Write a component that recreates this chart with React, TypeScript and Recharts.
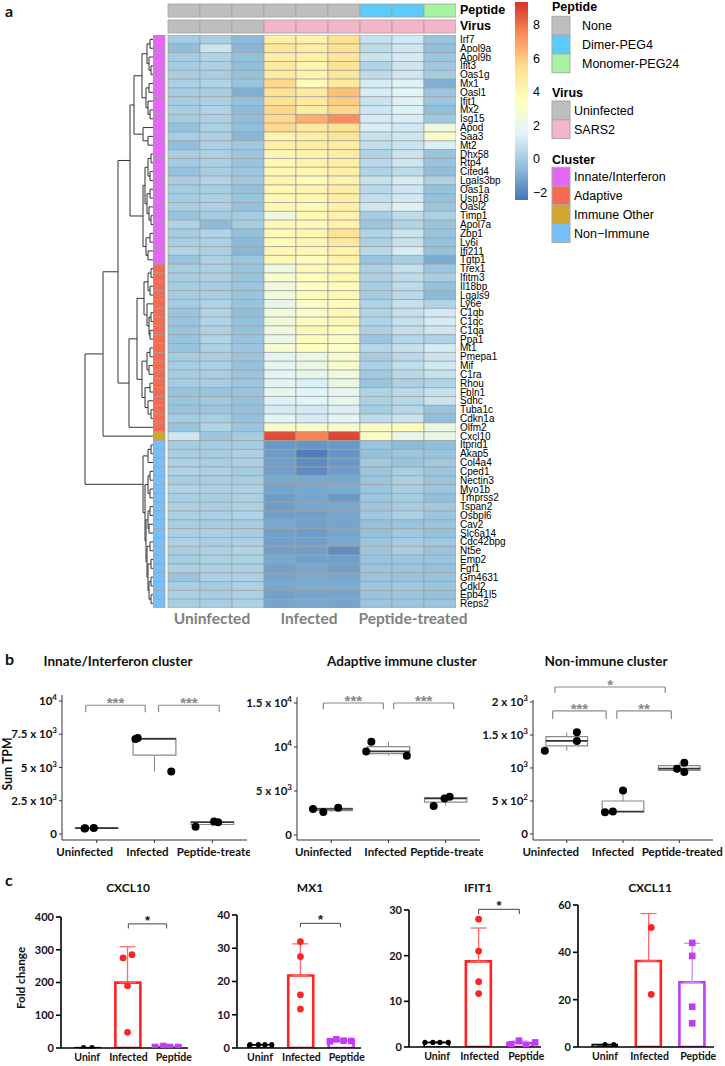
import React from 'react';
import {
  BarChart, Bar, Cell, XAxis, YAxis, ScatterChart, Scatter, ComposedChart,
  ReferenceLine, ReferenceArea, ReferenceDot, ErrorBar,
} from 'recharts';

// ---------------- panel a : heatmap ----------------
const genes = [
  'Irf7', 'Apol9a', 'Apol9b', 'Ifit3', 'Oas1g', 'Mx1', 'Oasl1', 'Ifit1', 'Mx2', 'Isg15', 'Apod', 'Saa3', 'Mt2',
  'Dhx58', 'Rtp4', 'Cited4', 'Lgals3bp', 'Oas1a', 'Usp18', 'Oasl2', 'Timp1', 'Apol7a', 'Zbp1', 'Ly6i', 'Ifi211', 'Tgtp1',
  'Trex1', 'Ifitm3', 'Il18bp', 'Lgals9', 'Ly6e', 'C1qb', 'C1qc', 'C1qa', 'Ppa1', 'Mt1', 'Pmepa1', 'Mif', 'C1ra', 'Rhou',
  'Fbln1', 'Sdhc', 'Tuba1c', 'Cdkn1a', 'Olfm2', 'Cxcl10',
  'Itprid1', 'Akap5', 'Col4a4', 'Cped1', 'Nectin3', 'Myo1b', 'Tmprss2', 'Tspan2', 'Osbpl6', 'Cav2', 'Slc6a14',
  'Cdc42bpg', 'Nt5e', 'Emp2', 'Fgf1', 'Gm4631', 'Cdkl2', 'Epb41l5', 'Reps2',
];
const clusterNames = ['Innate/Interferon', 'Adaptive', 'Immune Other', 'Non\u2212Immune'];
const clusterSizes = [26, 19, 1, 19];
const peptideLevels = ['None', 'Dimer-PEG4', 'Monomer-PEG24'];
const virusLevels = ['Uninfected', 'SARS2'];
const samplePeptide = ['None', 'None', 'None', 'None', 'None', 'None', 'Dimer-PEG4', 'Dimer-PEG4', 'Monomer-PEG24'];
const sampleVirus = ['Uninfected', 'Uninfected', 'Uninfected', 'SARS2', 'SARS2', 'SARS2', 'SARS2', 'SARS2', 'SARS2'];
const sampleGroups = ['Uninfected', 'Infected', 'Peptide-treated'];

// one row per gene, one value per sample (3 uninfected, 3 infected, 3 peptide)
const zScores = [
  [0.0, 0.1, -0.6, 4.5, 4.3, 5.3, 0.8, 1.1, -0.3],
  [-0.5, 0.9, -0.7, 5.0, 4.6, 5.3, 0.6, 1.0, -0.5],
  [0.0, 0.3, -0.4, 4.6, 4.4, 5.0, 0.9, 1.2, -0.2],
  [0.0, 0.2, -0.5, 4.8, 4.2, 5.2, 0.3, 1.0, -0.1],
  [0.1, 0.1, -0.4, 4.7, 4.3, 5.0, 0.6, 1.0, 0.0],
  [0.2, 0.3, -0.3, 5.6, 3.6, 4.8, 1.2, 1.4, -0.9],
  [0.0, 0.1, -0.9, 5.2, 4.8, 6.2, 1.2, 1.6, -0.2],
  [0.0, 0.2, -0.4, 5.2, 4.8, 5.9, 0.9, 1.4, -0.2],
  [0.1, 0.3, -0.6, 5.6, 4.6, 5.6, 1.0, 1.4, -0.5],
  [0.0, 0.2, -0.5, 5.6, 6.6, 7.4, 1.2, 1.3, -0.1],
  [-0.4, 0.2, -0.5, 5.6, 4.8, 5.3, 1.3, 1.1, 2.4],
  [0.1, 0.2, -0.7, 4.2, 4.6, 5.1, 0.8, 1.0, 3.2],
  [-0.5, 0.2, -0.1, 4.4, 4.6, 4.6, 0.7, 0.9, 1.3],
  [0.1, 0.2, -0.2, 3.9, 4.3, 4.6, 0.3, 0.9, -0.3],
  [0.0, 0.2, -0.3, 3.9, 4.3, 4.5, 0.5, 1.0, -0.3],
  [-0.4, 0.1, -0.2, 4.0, 4.0, 4.5, 0.3, 0.6, -0.5],
  [0.1, 0.3, -0.1, 4.1, 3.6, 4.3, 0.8, 1.2, 0.2],
  [0.0, 0.1, -0.4, 4.0, 4.2, 4.6, 0.5, 1.0, -0.4],
  [0.0, 0.2, -0.3, 3.9, 4.0, 4.5, 0.7, 1.1, -0.4],
  [0.1, 0.2, -0.4, 4.0, 3.8, 4.4, 1.0, 1.4, -0.2],
  [-0.3, 0.0, 0.0, 2.4, 3.9, 4.2, 0.0, 0.6, 0.2],
  [0.3, -0.6, 0.0, 3.9, 3.8, 4.3, -0.2, 0.3, -0.3],
  [0.0, 0.3, -0.4, 3.8, 4.0, 5.2, 0.3, 0.9, -0.3],
  [0.1, 0.2, -0.6, 3.7, 3.9, 4.8, 0.2, 0.8, -0.4],
  [0.3, 0.2, -0.7, 4.0, 3.9, 4.3, 0.5, 1.2, -0.4],
  [-0.3, 0.2, -0.2, 3.9, 3.6, 4.3, -0.3, 0.1, -1.0],
  [0.1, 0.2, -0.3, 2.3, 3.8, 3.9, 0.2, 0.8, -0.2],
  [0.0, 0.2, -0.3, 3.0, 3.5, 4.0, 0.2, 0.6, 0.1],
  [0.0, 0.1, -0.2, 2.4, 3.4, 3.6, 0.1, 0.6, -0.4],
  [0.0, 0.1, -0.3, 2.6, 3.6, 3.9, 0.0, 0.5, -0.6],
  [0.0, 0.3, -0.3, 2.0, 3.2, 3.6, 0.3, 0.8, 0.3],
  [-0.3, 0.3, -0.5, 2.6, 3.2, 3.8, 0.3, 0.8, 1.1],
  [-0.3, 0.3, -0.4, 2.5, 3.3, 3.8, 0.3, 0.8, 1.2],
  [-0.3, 0.2, -0.4, 2.5, 3.8, 3.6, 0.2, 0.7, 1.0],
  [-0.3, 0.3, -0.3, 2.1, 3.5, 3.2, -0.2, 0.4, 0.3],
  [-0.3, 0.2, -0.2, 2.9, 3.5, 3.3, 0.4, 0.8, 1.2],
  [0.0, 0.1, -0.3, 1.7, 2.2, 2.9, 0.0, 0.5, 0.9],
  [0.0, 0.2, -0.4, 1.8, 2.1, 3.0, 0.2, 0.7, 1.1],
  [0.0, 0.1, -0.3, 1.6, 2.0, 2.5, -0.1, 0.5, 0.8],
  [0.0, 0.1, -0.2, 1.7, 1.3, 2.2, -0.3, 0.2, 0.3],
  [-0.3, -0.3, -0.3, 1.9, 1.5, 1.8, 0.3, 0.5, 0.8],
  [-0.3, -0.1, -0.4, 1.4, 1.6, 1.9, 0.2, 0.4, 0.9],
  [-0.3, -0.2, -0.4, 1.2, 1.1, 1.3, 0.0, 0.4, -0.3],
  [0.0, 0.1, -0.4, 1.7, 1.2, 1.6, 0.6, 0.9, -0.5],
  [-0.3, 0.3, -0.2, 3.0, 3.0, 2.9, 3.2, 3.4, 2.3],
  [1.0, -0.2, 0.0, 8.8, 7.6, 8.9, 3.2, 2.0, 2.2],
  [0.0, 0.0, 0.0, -1.5, -1.6, -1.5, -0.3, -0.6, -0.5],
  [0.1, 0.0, 0.2, -1.4, -2.2, -1.6, -0.4, -0.2, -0.3],
  [0.2, 0.1, 0.2, -1.3, -1.8, -1.5, -0.1, -0.3, -0.1],
  [0.3, 0.2, 0.0, -1.3, -1.8, -1.4, -0.2, 0.1, -0.2],
  [0.1, 0.1, 0.1, -1.1, -1.1, -1.1, -0.3, 0.2, -0.3],
  [0.3, 0.2, 0.2, -1.2, -1.1, -1.0, -0.3, 0.1, -0.2],
  [0.1, 0.1, 0.2, -1.4, -1.2, -1.5, -0.2, 0.0, -0.5],
  [0.2, 0.1, 0.2, -1.4, -1.2, -1.1, -0.2, 0.0, -0.1],
  [0.2, 0.2, 0.3, -1.3, -1.3, -1.2, -0.1, 0.2, -0.2],
  [0.1, 0.0, 0.0, -1.1, -1.3, -1.2, -0.4, -0.3, -0.3],
  [0.2, 0.2, 0.1, -1.3, -1.4, -1.2, -0.4, -0.1, -0.4],
  [0.2, 0.1, 0.2, -1.3, -1.3, -1.1, -0.2, 0.0, -0.1],
  [0.1, 0.2, 0.3, -1.3, -1.3, -1.8, -0.2, 0.1, -0.3],
  [0.0, 0.2, 0.2, -1.1, -1.3, -1.3, -0.3, -0.2, -0.3],
  [0.2, 0.2, 0.2, -1.3, -1.1, -1.3, -0.3, -0.3, -0.4],
  [-0.3, 0.2, 0.2, -1.2, -1.0, -1.1, -0.3, -0.3, -0.3],
  [0.1, 0.0, 0.2, -1.1, -1.0, -1.0, -0.2, -0.1, -0.3],
  [0.2, 0.1, 0.2, -1.3, -1.2, -1.2, -0.3, -0.2, -0.4],
  [0.1, 0.1, 0.2, -1.2, -1.1, -1.2, -0.2, -0.2, -0.2],
];

const keyRange = [-2.45, 9.35];
const keyTicks = [8, 6, 4, 2, 0, -2];

// row dendrogram: [merge height, left, right], leaves are row indices
const dendrogram = [68,
  [50,
    [35,
      [23,
        [19,
          [11, [6, [3, 0, 1], [4, 2, [2, 3, 4]]], [7, [4, 5, 6], [5, 7, [3, 8, 9]]]],
          [10, 10, [5, 11, 12]]],
        [10,
          [8, [5, [2, 13, 14], [3, 15, 16]], [6, [3, 17, 18], [4, 19, [2, 20, 21]]]],
          [7, [3, 22, 23], [5, 24, 25]]]],
      [24,
        [16,
          [9, [5, [2, 26, 27], [3, 28, 29]], [6, 30, [4, [2, 31, 32], [3, 33, 34]]]],
          [11, [6, [3, 35, 36], [4, 37, 38]], [8, [3, 39, 40], [5, 41, [2, 42, 43]]]]],
        44]],
    45],
  [10,
    [5, [2, 46, 47], 48],
    [8,
      [5, [3, 49, 50], [3, 51, 52]],
      [7,
        [5, [3, 53, 54], [4, 55, 56]],
        [6, [3, 57, 58], [5, [2, 59, 60], [4, [2, 61, 62], [2, 63, 64]]]]]]]];

// ---------------- panel b : cluster sums ----------------
const innateTicks = [0, 2500, 5000, 7500, 10000];
const innateTickText = ['0', '2.5 x 10^3', '5 x 10^3', '7.5 x 10^3', '10^4'];
const innateTPM = [[420, 440, 450], [7150, 7220, 4700], [550, 950, 880]];
const innateJitter = [[0.79, 0.8, 0.95], [1.67, 1.71, 2.29], [2.71, 3.03, 3.1]];
const innateSig = [
  { x1: 0.81, x2: 1.84, y: 9680, end: 9160, label: '***' },
  { x1: 2.07, x2: 3.12, y: 9680, end: 9160, label: '***' },
];

const adaptiveTicks = [0, 5000, 10000, 15000];
const adaptiveTickText = ['0', '5 x 10^3', '10^4', '1.5 x 10^4'];
const adaptiveTPM = [[2950, 2600, 3100], [10600, 9500, 9000], [3300, 4150, 4350]];
const adaptiveJitter = [[0.68, 0.86, 1.12], [1.7, 1.61, 2.32], [2.79, 2.98, 3.07]];
const adaptiveSig = [
  { x1: 0.86, x2: 1.91, y: 15000, end: 14300, label: '***' },
  { x1: 2.09, x2: 3.14, y: 15000, end: 14300, label: '***' },
];

const nonImmuneTicks = [0, 500, 1000, 1500, 2000];
const nonImmuneTickText = ['0', '5 x 10^2', '10^3', '1.5 x 10^3', '2 x 10^3'];
const nonImmuneTPM = [[1260, 1410, 1540], [330, 340, 660], [990, 1080, 940]];
const nonImmuneJitter = [[0.61, 1.18, 1.18], [1.68, 1.82, 2.0], [2.96, 3.09, 3.09]];
const nonImmuneSig = [
  { x1: 0.79, x2: 2.75, y: 2227, end: 2136, label: '*' },
  { x1: 0.75, x2: 1.7, y: 1864, end: 1742, label: '***' },
  { x1: 1.89, x2: 2.86, y: 1864, end: 1742, label: '**' },
];

// ---------------- panel c : qPCR fold change ----------------
const foldGroups = ['Uninf', 'Infected', 'Peptide'];
const cxcl10Fold = [[1, 1], [275, 285, 190, 48], [3, 6, 3, 3]];
const cxcl10Jitter = [[0.91, 1.12], [1.89, 2.11, 2.0, 2.0], [2.68, 2.89, 3.05, 3.26]];
const mx1Fold = [[1, 1, 1, 1], [32, 27.5, 16, 11.7], [2.0, 2.6, 2.2, 2.1]];
const mx1Jitter = [[0.75, 0.96, 1.12, 1.29], [2, 2, 2, 2], [2.73, 2.89, 3.07, 3.26]];
const ifit1Fold = [[1, 1, 1, 1], [28, 21, 14.3, 11.7], [0.6, 1.4, 0.4, 1.0]];
const ifit1Jitter = [[0.71, 0.9, 1.07, 1.27], [2, 2, 2, 2], [2.78, 2.97, 3.14, 3.36]];
const cxcl11Fold = [[1, 1], [50.5, 22.2], [44, 38.5, 17, 10]];
const cxcl11Jitter = [[1.0, 1.2], [2.06, 2.06], [3, 3, 3, 3]];

// ---------------- styling ----------------
const ARIAL = '"Liberation Sans", Arial, sans-serif';
const CAL = 'Lato, "Liberation Sans", sans-serif';
const heatPalette = ['#4575B4', '#91BFDB', '#E0F3F8', '#FFFFBF', '#FEE090', '#FC8D59', '#D73027'];
const peptideFill: any = { None: '#BEBEBE', 'Dimer-PEG4': '#5CCBF9', 'Monomer-PEG24': '#A6F3A0' };
const virusFill: any = { Uninfected: '#BEBEBE', SARS2: '#F3B5C7' };
const clusterFill = ['#E466F5', '#F36B51', '#D2A62E', '#77BFFA'];
const GRID = '#A2A2A2';

const HM = { left: 153, top: 35, height: 573, cell: 32, cl: 12, gap: 3, labelW: 75 };
const clU = HM.cl / HM.cell;
const gapU = HM.gap / HM.cell;
const totalU = clU + gapU + 9;
const plotW = HM.cl + HM.gap + 9 * HM.cell;

function hexRgb(h: string) {
  return [1, 3, 5].map((i) => parseInt(h.slice(i, i + 2), 16));
}
function heatColor(v: number) {
  const [lo, hi] = keyRange;
  const n = heatPalette.length - 1;
  const t = Math.min(1, Math.max(0, (v - lo) / (hi - lo))) * n;
  const i = Math.min(n - 1, Math.floor(t));
  const f = t - i;
  const a = hexRgb(heatPalette[i]);
  const b = hexRgb(heatPalette[i + 1]);
  const c = a.map((x, k) => Math.round(x + (b[k] - x) * f));
  return `rgb(${c[0]},${c[1]},${c[2]})`;
}

const geneCluster = clusterSizes.flatMap((n, k) => Array(n).fill(k));
const sampleIdx = [0, 1, 2, 3, 4, 5, 6, 7, 8];

function Heatmap() {
  const rows = genes.map((g) => {
    const r: any = { gene: g, cl: clU, gap: gapU };
    sampleIdx.forEach((j) => (r['s' + j] = 1));
    return r;
  });
  return (
    <BarChart layout="vertical" width={plotW + HM.labelW} height={HM.height} data={rows}
      margin={{ top: 0, right: 0, bottom: 0, left: 0 }} barCategoryGap={0}>
      <XAxis type="number" hide domain={[0, totalU]} allowDataOverflow />
      <YAxis type="category" dataKey="gene" orientation="right" width={HM.labelW} axisLine={false}
        tickLine={false} tickSize={0} tickMargin={4} interval={0}
        tick={{ fontSize: 10, fill: '#000', fontFamily: ARIAL }} />
      <Bar dataKey="cl" stackId="h" stroke={GRID} strokeWidth={0.8} isAnimationActive={false}>
        {rows.map((_, i) => <Cell key={i} fill={clusterFill[geneCluster[i]]} />)}
      </Bar>
      <Bar dataKey="gap" stackId="h" fill="none" stroke="none" isAnimationActive={false} />
      {sampleIdx.map((j) => (
        <Bar key={j} dataKey={'s' + j} stackId="h" stroke={GRID} strokeWidth={0.8} isAnimationActive={false}>
          {zScores.map((r, i) => <Cell key={i} fill={heatColor(r[j])} />)}
        </Bar>
      ))}
    </BarChart>
  );
}

function Annotation() {
  const rows = [
    { name: 'Peptide', sp: clU + gapU, fills: samplePeptide.map((p) => peptideFill[p]) },
    { name: 'Virus', sp: clU + gapU, fills: sampleVirus.map((v) => virusFill[v]) },
  ].map((r: any) => {
    sampleIdx.forEach((j) => (r['s' + j] = 1));
    return r;
  });
  return (
    <BarChart layout="vertical" width={plotW + HM.labelW} height={32} data={rows}
      margin={{ top: 0, right: 0, bottom: 0, left: 0 }} barSize={13}>
      <XAxis type="number" hide domain={[0, totalU]} allowDataOverflow />
      <YAxis type="category" dataKey="name" orientation="right" width={HM.labelW} axisLine={false}
        tickLine={false} tickSize={0} tickMargin={4} interval={0}
        tick={{ fontSize: 12.5, fill: '#000', fontFamily: ARIAL, fontWeight: 700 }} />
      <Bar dataKey="sp" stackId="a" fill="none" stroke="none" isAnimationActive={false} />
      {sampleIdx.map((j) => (
        <Bar key={j} dataKey={'s' + j} stackId="a" stroke={GRID} strokeWidth={0.8} isAnimationActive={false}>
          {rows.map((r, i) => <Cell key={i} fill={r.fills[j]} />)}
        </Bar>
      ))}
    </BarChart>
  );
}

function treeSegments(node: any, segs: any[]): { h: number; y: number } {
  if (typeof node === 'number') return { h: 0, y: node + 0.5 };
  const [h, a, b] = node;
  const A = treeSegments(a, segs);
  const B = treeSegments(b, segs);
  segs.push([{ x: A.h, y: A.y }, { x: h, y: A.y }, { x: h, y: B.y }, { x: B.h, y: B.y }]);
  return { h, y: (A.y + B.y) / 2 };
}

function Dendrogram() {
  const segs: any[] = [];
  treeSegments(dendrogram, segs);
  return (
    <ScatterChart width={69} height={HM.height} margin={{ top: 0, right: 0, bottom: 0, left: 0 }}>
      <XAxis type="number" dataKey="x" domain={[0, 69]} reversed hide allowDataOverflow />
      <YAxis type="number" dataKey="y" domain={[0, genes.length]} reversed hide allowDataOverflow />
      {segs.map((pts, i) => (
        <Scatter key={i} data={pts} fill="#333" line={{ stroke: '#333', strokeWidth: 1 }} lineType="joint"
          shape={() => <g />} isAnimationActive={false} />
      ))}
    </ScatterChart>
  );
}

function HeatLegend() {
  const [lo, hi] = keyRange;
  const kTop = 2;
  const kH = 198;
  const groups = [
    { title: 'Peptide', titleY: 11, top: 16.3, labelX: 102, items: peptideLevels, fills: peptideLevels.map((p) => peptideFill[p]) },
    { title: 'Virus', titleY: 97, top: 101, labelX: 94, items: virusLevels, fills: virusLevels.map((v) => virusFill[v]) },
    { title: 'Cluster', titleY: 163.5, top: 167.3, labelX: 94, items: clusterNames, fills: clusterFill },
  ];
  return (
    <svg width={245} height={250} style={{ position: 'absolute', left: 480, top: 0 }}>
      <defs>
        <linearGradient id="heatkey" x1="0" y1="1" x2="0" y2="0">
          {heatPalette.map((c, i) => <stop key={i} offset={i / (heatPalette.length - 1)} stopColor={c} />)}
        </linearGradient>
      </defs>
      <rect x={35} y={kTop} width={13} height={kH} fill="url(#heatkey)" />
      {keyTicks.map((v) => (
        <text key={v} x={53} y={kTop + kH - ((v - lo) / (hi - lo)) * kH} dy={4.5} fontSize={12.5} fontFamily={ARIAL}>
          {v < 0 ? '\u2212' + -v : v}
        </text>
      ))}
      {groups.map((g) => (
        <g key={g.title}>
          <text x={72} y={g.titleY} fontSize={12.5} fontWeight={700} fontFamily={ARIAL}>{g.title}</text>
          {g.items.map((it, i) => (
            <g key={it}>
              <rect x={72} y={g.top + i * 18.8} width={18} height={18.8} fill={g.fills[i]} stroke="#A8A8A8" strokeWidth={1} />
              <text x={g.labelX} y={g.top + i * 18.8 + 9.4} dy={4.4} fontSize={12.5} fontFamily={ARIAL}>{it}</text>
            </g>
          ))}
        </g>
      ))}
    </svg>
  );
}

// ---------------- box plots ----------------
function quantile(s: number[], p: number) {
  const h = (s.length - 1) * p;
  const lo = Math.floor(h);
  const hiV = s[Math.min(s.length - 1, lo + 1)];
  return s[lo] + (h - lo) * (hiV - s[lo]);
}
function boxStats(vals: number[]) {
  const s = [...vals].sort((a, b) => a - b);
  const q1 = quantile(s, 0.25);
  const med = quantile(s, 0.5);
  const q3 = quantile(s, 0.75);
  const iqr = q3 - q1;
  const lo = s.filter((v) => v >= q1 - 1.5 * iqr)[0];
  const hiArr = s.filter((v) => v <= q3 + 1.5 * iqr);
  return { q1, med, q3, lo, hi: hiArr[hiArr.length - 1] };
}

const PowerTick = (props: any) => {
  const { x, y, payload, ticks, labels } = props;
  const txt: string = labels[ticks.indexOf(payload.value)] || '';
  const [base, exp] = txt.split('^');
  return (
    <text x={x} y={y} dy={4} textAnchor="end" fontSize={11.5} fontWeight={700} fontFamily={CAL} fill="#111">
      <tspan>{base}</tspan>
      {exp && <tspan dy={-5} fontSize={8}>{exp}</tspan>}
    </text>
  );
};

const GroupTick = (props: any) => {
  const { x, y, payload, dxs, names, size } = props;
  const i = payload.value - 1;
  return (
    <text x={x + dxs[i]} y={y} dy={size - 0.5} textAnchor="middle" fontSize={size} fontWeight={700} fontFamily={CAL} fill="#111">
      {names[i]}
    </text>
  );
};

const AXIS_B = 840;
const BOX_HALF = 0.37;

function BoxPanel({ cfg, ticks, tickText, values, jitter, sig }: any) {
  const top = 668;
  const height = AXIS_B + 24 - top;
  const stats = values.map(boxStats);
  const pts = values.flatMap((vs: number[], g: number) => vs.map((v, k) => ({ x: jitter[g][k], y: v })));
  const grey = '#8a8a8a';
  return (
    <div style={{ position: 'absolute', left: cfg.left, top }}>
      <ScatterChart width={cfg.width} height={height}
        margin={{ top: cfg.axisTop - top, right: cfg.left + cfg.width - cfg.plotRight, bottom: 0, left: 0 }}>
        <XAxis type="number" dataKey="x" domain={[0.4, 3.6]} ticks={[1, 2, 3]} interval={0} height={24}
          stroke="#333" tickSize={3} tickMargin={2} allowDataOverflow
          tick={<GroupTick dxs={cfg.labelDx} names={sampleGroups} size={11.5} />} />
        <YAxis type="number" dataKey="y" domain={cfg.domain} ticks={ticks} interval={0} width={cfg.axisX - cfg.left}
          stroke="#333" tickSize={3} tickMargin={2} allowDataOverflow
          tick={<PowerTick ticks={ticks} labels={tickText} />} />
        {stats.map((s: any, g: number) => (
          <ReferenceLine key={'wu' + g} segment={[{ x: g + 1, y: s.q3 }, { x: g + 1, y: s.hi }]} stroke={grey} strokeWidth={1} />
        ))}
        {stats.map((s: any, g: number) => (
          <ReferenceLine key={'wl' + g} segment={[{ x: g + 1, y: s.lo }, { x: g + 1, y: s.q1 }]} stroke={grey} strokeWidth={1} />
        ))}
        {stats.map((s: any, g: number) => (
          <ReferenceArea key={'b' + g} x1={g + 1 - BOX_HALF} x2={g + 1 + BOX_HALF} y1={s.q1} y2={s.q3}
            fill="#fff" fillOpacity={1} stroke={grey} strokeWidth={1.2} />
        ))}
        {stats.map((s: any, g: number) => (
          <ReferenceLine key={'m' + g} segment={[{ x: g + 1 - BOX_HALF, y: s.med }, { x: g + 1 + BOX_HALF, y: s.med }]}
            stroke="#333" strokeWidth={1.6} />
        ))}
        {sig.map((b: any, i: number) => (
          <ReferenceLine key={'s' + i} ifOverflow="visible" stroke={grey} strokeWidth={1.2}
            segment={[{ x: b.x1, y: b.end }, { x: b.x1, y: b.y }]} />
        ))}
        {sig.map((b: any, i: number) => (
          <ReferenceLine key={'t' + i} ifOverflow="visible" stroke={grey} strokeWidth={1.2}
            segment={[{ x: b.x1, y: b.y }, { x: b.x2, y: b.y }]} />
        ))}
        {sig.map((b: any, i: number) => (
          <ReferenceLine key={'u' + i} ifOverflow="visible" stroke={grey} strokeWidth={1.2}
            segment={[{ x: b.x2, y: b.y }, { x: b.x2, y: b.end }]} />
        ))}
        {sig.map((b: any, i: number) => (
          <ReferenceDot key={'l' + i} x={(b.x1 + b.x2) / 2} y={b.y} r={0} ifOverflow="visible"
            shape={(p: any) => (
              <text x={p.cx} y={p.cy + 3} textAnchor="middle" fontSize={15} fontWeight={700} fontFamily={ARIAL} fill="#888">
                {b.label}
              </text>
            )} />
        ))}
        <Scatter data={pts} fill="#000" isAnimationActive={false}
          shape={(p: any) => <circle cx={p.cx} cy={p.cy} r={4} fill="#000" />} />
      </ScatterChart>
    </div>
  );
}

// ---------------- fold change bars ----------------
const groupStroke = ['#000', '#FF2424', '#C23CF7'];
const errStroke = ['#000', '#FF6B6B', '#D68AF9'];
const X_MAX = 3.5;

function meanOf(v: number[]) {
  return v.reduce((a, b) => a + b, 0) / v.length;
}
function sdOf(v: number[]) {
  const m = meanOf(v);
  return Math.sqrt(v.reduce((a, b) => a + (b - m) * (b - m), 0) / (v.length - 1));
}

function FoldPanel({ cfg, values, jitter, sig }: any) {
  const top = 893;
  const height = 1066 - top;
  const rows = values.map((v: number[], i: number) => ({ name: foldGroups[i], x: i + 1, mean: meanOf(v) }));
  // hidden band axis for the bars, padded so its band centres sit on 1, 2, 3 of the numeric axis
  const unit = (cfg.plotRight - cfg.axisX) / (X_MAX - cfg.xMin);
  const padLeft = (0.5 - cfg.xMin) * unit;
  return (
    <div style={{ position: 'absolute', left: cfg.left, top }}>
      <ComposedChart width={cfg.width} height={height} data={rows}
        margin={{ top: cfg.axisTop - top, right: cfg.left + cfg.width - cfg.plotRight, bottom: 0, left: 0 }}>
        <XAxis xAxisId="band" type="category" dataKey="name" hide padding={{ left: padLeft, right: 0 }} />
        <XAxis type="number" dataKey="x" domain={[cfg.xMin, X_MAX]} ticks={[1, 2, 3]} interval={0}
          height={1066 - cfg.axisBottom} axisLine={{ stroke: '#000', strokeWidth: 1.6 }} tickLine={false}
          tickSize={0} tickMargin={3} allowDataOverflow
          tick={<GroupTick dxs={[0, 1, 6]} names={foldGroups} size={10.5} />} />
        <YAxis type="number" domain={[0, cfg.yMax]} ticks={cfg.ticks} interval={0} width={cfg.axisX - cfg.left}
          axisLine={{ stroke: '#000', strokeWidth: 1.6 }} tickLine={{ stroke: '#000', strokeWidth: 1.6 }}
          tickSize={5} tickMargin={2} allowDataOverflow
          tick={{ fontSize: 11, fontWeight: 700, fontFamily: CAL, fill: '#111' }} />
        {rows.map((r: any, i: number) => (
          <Scatter key={'e' + i} data={[{ x: r.x, y: r.mean, err: [0, sdOf(values[i])] }]} dataKey="y"
            shape={() => <g />} isAnimationActive={false}>
            <ErrorBar dataKey="err" direction="y" width={8} stroke={errStroke[i]} strokeWidth={1.3} />
          </Scatter>
        ))}
        <Bar xAxisId="band" dataKey="mean" barSize={25} fill="#fff" isAnimationActive={false}>
          {rows.map((_: any, i: number) => (
            <Cell key={i} fill="#fff" stroke={groupStroke[i]} strokeWidth={i === 0 ? 1.6 : 2.6} />
          ))}
        </Bar>
        {sig && [
          <ReferenceLine key="s1" ifOverflow="visible" stroke="#444" strokeWidth={1}
            segment={[{ x: sig.x1, y: sig.end }, { x: sig.x1, y: sig.y }]} />,
          <ReferenceLine key="s2" ifOverflow="visible" stroke="#444" strokeWidth={1}
            segment={[{ x: sig.x1, y: sig.y }, { x: sig.x2, y: sig.y }]} />,
          <ReferenceLine key="s3" ifOverflow="visible" stroke="#444" strokeWidth={1}
            segment={[{ x: sig.x2, y: sig.y }, { x: sig.x2, y: sig.end }]} />,
          <ReferenceDot key="s4" x={(sig.x1 + sig.x2) / 2} y={sig.y} r={0} ifOverflow="visible"
            shape={(p: any) => (
              <text x={p.cx} y={p.cy + 1} textAnchor="middle" fontSize={13} fontWeight={700} fontFamily={ARIAL} fill="#222">*</text>
            )} />,
        ]}
        <Scatter data={values[0].map((v: number, k: number) => ({ x: jitter[0][k], y: v }))} dataKey="y" isAnimationActive={false}
          shape={(p: any) => <circle cx={p.cx} cy={p.cy} r={2.6} fill="#000" />} />
        <Scatter data={values[1].map((v: number, k: number) => ({ x: jitter[1][k], y: v }))} dataKey="y" isAnimationActive={false}
          shape={(p: any) => <circle cx={p.cx} cy={p.cy} r={3.4} fill="#FF2424" />} />
        <Scatter data={values[2].map((v: number, k: number) => ({ x: jitter[2][k], y: v }))} dataKey="y" isAnimationActive={false}
          shape={(p: any) => <rect x={p.cx - 3.3} y={p.cy - 3.3} width={6.6} height={6.6} fill="#C23CF7" />} />
      </ComposedChart>
    </div>
  );
}

const txt = (s: any): React.CSSProperties => ({ position: 'absolute', whiteSpace: 'nowrap', lineHeight: 1, ...s });

export default function App() {
  const boxCfg = [
    { left: 0, width: 250, axisX: 62, plotRight: 247, axisTop: 695, domain: [-450, 10450], labelDx: [-12, -7, 5] },
    { left: 240, width: 243, axisX: 297, plotRight: 480, axisTop: 697, domain: [-570, 15680], labelDx: [-8, -3, 5] },
    { left: 478, width: 247, axisX: 533, plotRight: 713, axisTop: 700, domain: [-91, 2030], labelDx: [-16, -10, 3] },
  ];
  const foldCfg = [
    { left: 0, width: 195, axisX: 61, plotRight: 188, axisTop: 917, axisBottom: 1048, xMin: 0.35, yMax: 400, ticks: [0, 100, 200, 300, 400] },
    { left: 180, width: 185, axisX: 237, plotRight: 361, axisTop: 915, axisBottom: 1048, xMin: 0.43, yMax: 40, ticks: [0, 10, 20, 30, 40] },
    { left: 355, width: 190, axisX: 409, plotRight: 541, axisTop: 910, axisBottom: 1047, xMin: 0.325, yMax: 30, ticks: [0, 10, 20, 30] },
    { left: 540, width: 185, axisX: 578, plotRight: 714, axisTop: 905, axisBottom: 1047, xMin: 0.38, yMax: 60, ticks: [0, 20, 40, 60] },
  ];
  const bold = { fontFamily: CAL, fontWeight: 700, color: '#111' };
  return (
    <div style={{ position: 'absolute', left: 0, top: 0, width: 725, height: 1066, background: '#fff', overflow: 'hidden' }}>
      {/* panel letters */}
      <div style={txt({ ...bold, left: 5, top: 3, fontSize: 16 })}>a</div>
      <div style={txt({ ...bold, left: 5, top: 651, fontSize: 16 })}>b</div>
      <div style={txt({ ...bold, left: 5, top: 872, fontSize: 16 })}>c</div>

      {/* panel a */}
      <div style={{ position: 'absolute', left: HM.left - 69, top: HM.top }}><Dendrogram /></div>
      <div style={{ position: 'absolute', left: HM.left, top: 1.5 }}><Annotation /></div>
      <div style={{ position: 'absolute', left: HM.left, top: HM.top }}><Heatmap /></div>
      <HeatLegend />
      {sampleGroups.map((g, i) => (
        <div key={g} style={txt({ fontFamily: CAL, fontWeight: 700, color: '#7f7f7f', fontSize: 15.5, top: 611,
          left: [212, 309, 413][i], transform: 'translateX(-50%)' })}>{g}</div>
      ))}

      {/* panel b */}
      {['Innate/Interferon cluster', 'Adaptive immune cluster', 'Non-immune cluster'].map((t, i) => (
        <div key={t} style={txt({ ...bold, fontSize: 13.5, top: 655, left: [118, 402, 606][i], transform: 'translateX(-50%)' })}>{t}</div>
      ))}
      <div style={txt({ ...bold, fontSize: 12.3, left: 8, top: 764, transform: 'translate(-50%, -50%) rotate(-90deg)' })}>Sum TPM</div>
      <BoxPanel cfg={boxCfg[0]} ticks={innateTicks} tickText={innateTickText} values={innateTPM} jitter={innateJitter} sig={innateSig} />
      <BoxPanel cfg={boxCfg[1]} ticks={adaptiveTicks} tickText={adaptiveTickText} values={adaptiveTPM} jitter={adaptiveJitter} sig={adaptiveSig} />
      <BoxPanel cfg={boxCfg[2]} ticks={nonImmuneTicks} tickText={nonImmuneTickText} values={nonImmuneTPM} jitter={nonImmuneJitter} sig={nonImmuneSig} />

      {/* panel c */}
      {['CXCL10', 'MX1', 'IFIT1', 'CXCL11'].map((t, i) => (
        <div key={t} style={txt({ ...bold, fontSize: 12, top: 882, left: [128, 310, 478, 650][i], transform: 'translateX(-50%)' })}>{t}</div>
      ))}
      <div style={txt({ ...bold, fontSize: 11.7, left: 21, top: 978, transform: 'translate(-50%, -50%) rotate(-90deg)' })}>Fold change</div>
      <FoldPanel cfg={foldCfg[0]} values={cxcl10Fold} jitter={cxcl10Jitter} sig={{ x1: 2.02, x2: 2.97, y: 379, end: 365 }} />
      <FoldPanel cfg={foldCfg[1]} values={mx1Fold} jitter={mx1Jitter} sig={{ x1: 2.0, x2: 2.99, y: 37.5, end: 36.3 }} />
      <FoldPanel cfg={foldCfg[2]} values={ifit1Fold} jitter={ifit1Jitter} sig={{ x1: 2.0, x2: 2.98, y: 30.15, end: 29.1 }} />
      <FoldPanel cfg={foldCfg[3]} values={cxcl11Fold} jitter={cxcl11Jitter} sig={null} />
    </div>
  );
}
